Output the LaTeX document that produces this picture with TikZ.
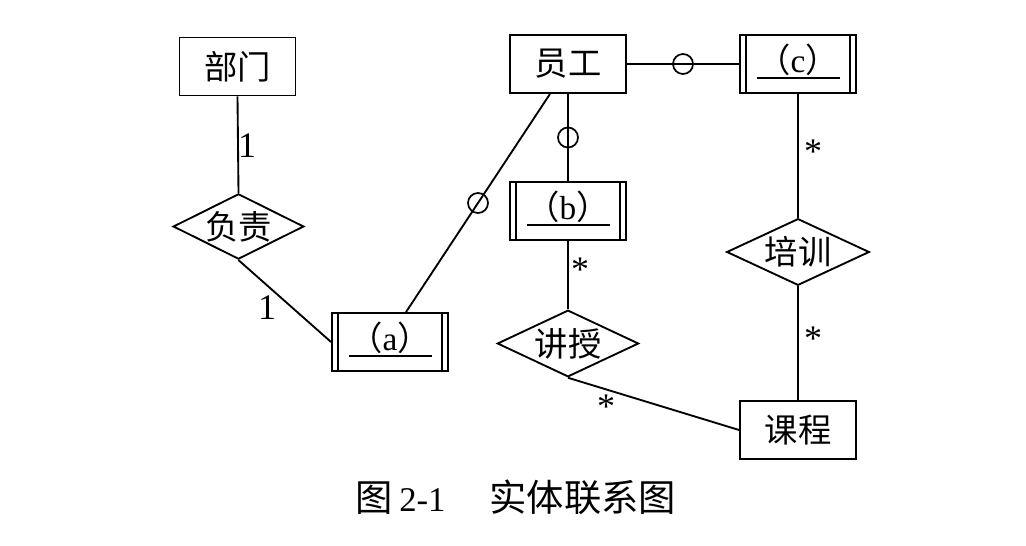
\documentclass[tikz,border=0pt]{standalone}
\usepackage{fontspec}
\setmainfont{Liberation Serif}
\newfontfamily\cjk{Noto Sans CJK SC}
\usetikzlibrary{shapes.geometric,calc}
\tikzset{
  ent/.style={draw,line width=1.4pt,inner sep=0pt,minimum width=87pt,minimum height=43.5pt,
    font=\fontsize{25}{28}\selectfont},
  rel/.style={draw,diamond,line width=1.4pt,inner sep=0pt,
    label={[font=\fontsize{25}{28}\selectfont]center:#1}},
  conn/.style={line width=1.4pt},
  opt/.style={draw,circle,line width=1.3pt,inner sep=0pt,minimum size=15pt},
  card/.style={font=\fontsize{27}{30}\selectfont,inner sep=0pt},
  bar/.style={line width=1.4pt},
  uline/.style={line width=1.8pt}
}
\begin{document}
\begin{tikzpicture}[x=0.75pt,y=-0.75pt]
\useasboundingbox (0,0) rectangle (1026,546);
% entities
\node[ent] (bm) at (237.5,66.5) {\cjk 部门};
\node[ent] (yg) at (568,64) {\cjk 员工};
\node[ent] (c)  at (798,64) {};
\node[ent] (b)  at (568,211) {};
\node[ent] (a)  at (390,342) {};
\node[ent] (kc) at (798,430) {\cjk 课程};
% weak entity decorations
\foreach \n/\t in {a/a,b/b,c/c}{
  \draw[bar] ($(\n.north west)+(7,0)$) -- ($(\n.south west)+(7,0)$);
  \draw[bar] ($(\n.north east)+(-7,0)$) -- ($(\n.south east)+(-7,0)$);
  \draw[uline] ($(\n.center)+(-41,14)$) -- ($(\n.center)+(42,14)$);
  \node[font=\fontsize{25}{28}\selectfont,inner sep=0pt] (\n txt) at ($(\n.center)+(0,-4)$) {{\cjk （}\t{\cjk ）}};
}
% relationships
\node[rel={\cjk 负责},minimum width=98pt,minimum height=49pt] (fz) at (238.5,226.5) {};
\node[rel={\cjk 讲授},minimum width=106pt,minimum height=50pt] (js) at (568,343.5) {};
\node[rel={\cjk 培训},minimum width=107pt,minimum height=50pt] (px) at (798,252) {};
% connectors
\draw[conn] (bm.south) -- (fz.north);
\draw[conn] (fz.south) -- (a.west);
\draw[conn] ($(a.north)+(16,0)$) -- node[opt,pos=0.5] (o1) {} ($(yg.south)+(-18,0)$);
\draw[conn] (yg.east) -- node[opt,pos=0.5] (o2) {} (c.west);
\draw[conn] (yg.south) -- node[opt,pos=0.5] (o3) {} (b.north);
\draw[conn] (b.south) -- (js.north);
\draw[conn] (js.south) -- (kc.west);
\draw[conn] (c.south) -- (px.north);
\draw[conn] (px.south) -- (kc.north);
% cardinalities
\node[card] (l1) at (247,146) {1};
\node[card] (l2) at (267,308) {1};
\node[card] (s1) at (813,152) {*};
\node[card] (s2) at (580,270) {*};
\node[card] (s3) at (606,407) {*};
\node[card] (s4) at (813,339) {*};
% caption
\node[font=\fontsize{26}{30}\selectfont,inner sep=0pt,anchor=west] (cap) at (355,497)
  {{\fontsize{28}{30}\selectfont\cjk 图}\hspace{5pt}2-1\hspace{33pt}{\fontsize{28}{30}\selectfont\cjk 实体联系图}};
\end{tikzpicture}
\end{document}
